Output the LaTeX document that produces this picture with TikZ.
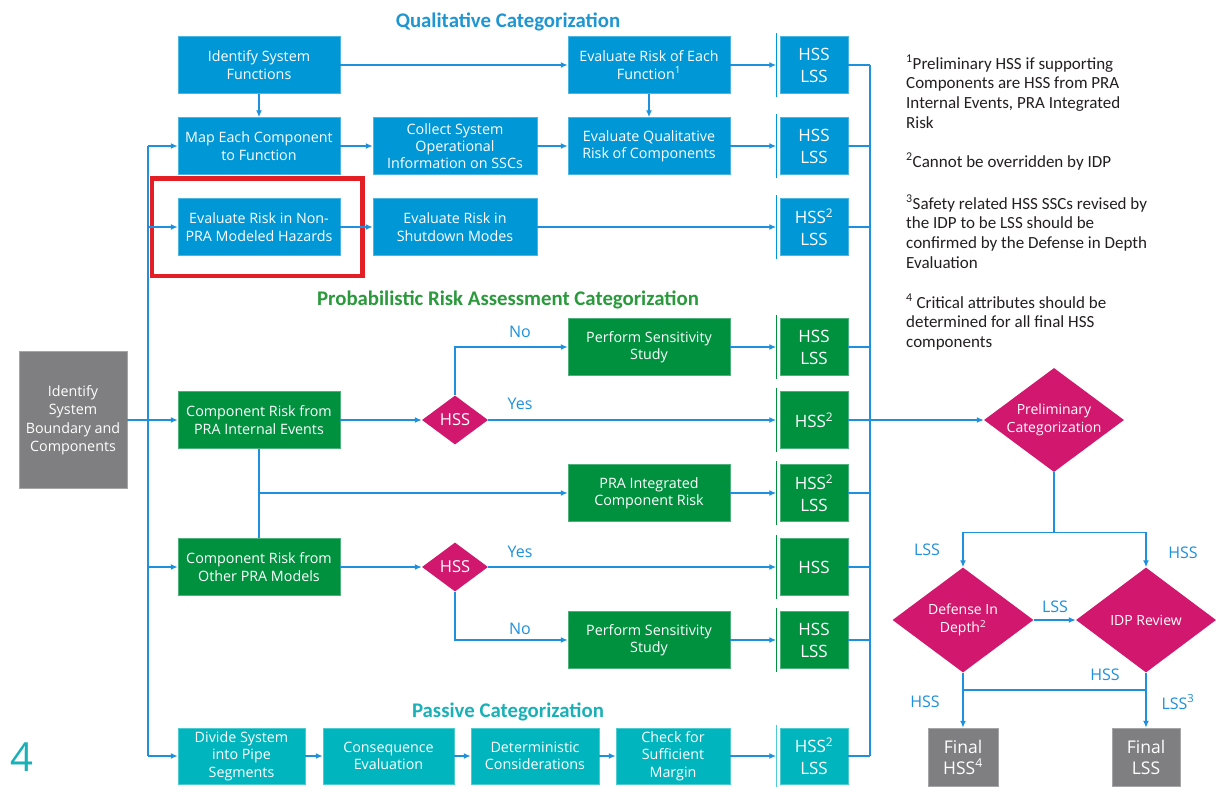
\documentclass[tikz,border=0pt]{standalone}
\usepackage{fontspec}
\setmainfont{Open Sans}
\newfontfamily\calfont{Carlito}
\usetikzlibrary{shapes.geometric,arrows.meta}

\definecolor{qualblue}{HTML}{0097D7}
\definecolor{pragreen}{HTML}{00913F}
\definecolor{pasteal}{HTML}{00B5BD}
\definecolor{decmag}{HTML}{D2186E}
\definecolor{boxgray}{HTML}{7F7F81}
\definecolor{linkblue}{HTML}{1E90DC}
\definecolor{markred}{HTML}{E31E24}
\definecolor{notetext}{HTML}{231F20}
\definecolor{qualtitle}{HTML}{1E96D2}
\definecolor{pratitle}{HTML}{2A9A3C}
\definecolor{pastitle}{HTML}{1AB0B8}

\tikzset{
  block/.style={rectangle, fill=#1, draw=#1!70!white, line width=0.5pt, text=white,
    align=center, inner sep=0pt, font=\fontsize{14.3}{17.3}\selectfont},
  wide/.style={minimum width=162pt, minimum height=57pt},
  res/.style={block=#1, minimum width=68pt, minimum height=57pt, font=\fontsize{17}{22}\selectfont},
  choice/.style={diamond, shape aspect=1.35, fill=decmag, text=white, align=center,
    inner sep=0pt, font=\fontsize{14}{17.5}\selectfont},
  link/.style={linkblue, line width=1.4pt},
  arr/.style={link, -{Latex[length=7pt,width=6pt]}},
  lbl/.style={text=linkblue, inner sep=0pt, font=\fontsize{16}{19}\selectfont},
  cattitle/.style={text=#1, inner sep=0pt, font=\calfont\fontsize{20.8}{24}\selectfont\bfseries},
  note/.style={anchor=north west, align=left, inner sep=0pt, text=notetext,
    font=\calfont\fontsize{17}{19.7}\selectfont},
  highlight/.style={markred, line width=4.5pt}
}

\begin{document}
\begin{tikzpicture}[x=1pt,y=-1pt]
\path[use as bounding box, fill=white] (0,0) rectangle (1216,800);

% section titles
\node[cattitle=qualtitle] (qualhead) at (508,22) {Qualitative Categorization};
\node[cattitle=pratitle] (prahead) at (508,300) {Probabilistic Risk Assessment Categorization};
\node[cattitle=pastitle] (pashead) at (508,712) {Passive Categorization};

% qualitative
\node[block=qualblue, wide] (fun) at (259,65) {Identify System\\Functions};
\node[block=qualblue, wide] (map) at (259,146) {Map Each Component\\to Function};
\node[block=qualblue, wide] (nonpra) at (259,227) {Evaluate Risk in Non-\\PRA Modeled Hazards};
\node[block=qualblue, wide, minimum width=164pt] (collect) at (455,146) {Collect System\\Operational\\Information on SSCs};
\node[block=qualblue, wide, minimum width=164pt] (shut) at (455,227) {Evaluate Risk in\\Shutdown Modes};
\node[block=qualblue, wide] (evalfun) at (649,65) {Evaluate Risk of Each\\Function\textsuperscript{1}};
\node[block=qualblue, wide] (evalqual) at (649,146) {Evaluate Qualitative\\Risk of Components};
\node[res=qualblue] (qa) at (814,65) {HSS\\LSS};
\node[res=qualblue] (qb) at (814,146) {HSS\\LSS};
\node[res=qualblue] (qc) at (814,227) {HSS\textsuperscript{2}\\LSS};

\draw[highlight] ([xshift=-26pt,yshift=20pt]nonpra.north west) rectangle ([xshift=22pt,yshift=-20pt]nonpra.south east);

% probabilistic
\node[block=boxgray, minimum width=108pt, minimum height=137pt, font=\fontsize{14.3}{18.5}\selectfont] (sys) at (73,420) {Identify\\System\\Boundary and\\Components};
\node[block=pragreen, wide] (pi) at (259,420) {Component Risk from\\PRA Internal Events};
\node[block=pragreen, wide] (op) at (259,567) {Component Risk from\\Other PRA Models};
\node[choice, minimum width=66pt, minimum height=49pt, font=\fontsize{16.5}{19}\selectfont] (hssa) at (455,420) {HSS};
\node[choice, minimum width=66pt, minimum height=49pt, font=\fontsize{16.5}{19}\selectfont] (hssb) at (455,567) {HSS};
\node[block=pragreen, wide] (sensa) at (649,347) {Perform Sensitivity\\Study};
\node[block=pragreen, wide] (integ) at (649,493) {PRA Integrated\\Component Risk};
\node[block=pragreen, wide] (sensb) at (649,640) {Perform Sensitivity\\Study};
\node[res=pragreen] (pa) at (814,347) {HSS\\LSS};
\node[res=pragreen] (pb) at (814,420) {HSS\textsuperscript{2}};
\node[res=pragreen] (pc) at (814,493) {HSS\textsuperscript{2}\\LSS};
\node[res=pragreen] (pd) at (814,567) {HSS};
\node[res=pragreen] (pe) at (814,640) {HSS\\LSS};

% passive
\node[block=pasteal, minimum width=127pt, minimum height=56pt] (div) at (241.5,756) {Divide System\\into Pipe\\Segments};
\node[block=pasteal, minimum width=131pt, minimum height=56pt] (cons) at (388.5,756) {Consequence\\Evaluation};
\node[block=pasteal, minimum width=128pt, minimum height=56pt] (det) at (535,756) {Deterministic\\Considerations};
\node[block=pasteal, minimum width=114pt, minimum height=56pt] (marg) at (673,756) {Check for\\Sufficient\\Margin};
\node[res=pasteal, minimum height=56pt] (va) at (814,756) {HSS\textsuperscript{2}\\LSS};

\node[text=pastitle, inner sep=0pt, font=\fontsize{40}{44}\selectfont] (pagenum) at (22,757) {4};

% final categorization
\node[choice, minimum width=140pt, minimum height=104pt] (prelim) at (1054,420) {Preliminary\\Categorization};
\node[choice, minimum width=141pt, minimum height=105pt] (depth) at (963,620) {Defense In\\Depth\textsuperscript{2}};
\node[choice, minimum width=140pt, minimum height=105pt] (idp) at (1146,620) {IDP Review};
\node[block=boxgray, minimum width=70pt, minimum height=58pt, font=\fontsize{17.5}{21}\selectfont] (finhss) at (963,757) {Final\\HSS\textsuperscript{4}};
\node[block=boxgray, minimum width=68pt, minimum height=58pt, font=\fontsize{17.5}{21}\selectfont] (finlss) at (1146,757) {Final\\LSS};

% bars in front of the results
\foreach \n/\c in {qa/qualblue,qb/qualblue,qc/qualblue,pa/pragreen,pb/pragreen,pc/pragreen,pd/pragreen,pe/pragreen,va/pasteal!70}
  \draw[\c, line width=1.2pt] ([xshift=-3.5pt,yshift=3pt]\n.north west) -- ([xshift=-3.5pt,yshift=-3pt]\n.south west);

% links
\draw[arr] (fun) -- (evalfun);
\draw[arr] (fun) -- (map);
\draw[arr] (map) -- (collect);
\draw[arr] (collect) -- (evalqual);
\draw[arr] (evalfun) -- (evalqual);
\draw[arr] (nonpra) -- (shut);
\draw[arr] (sys) -- (pi);
\draw[arr] (pi) -- (hssa);
\draw[arr] (op) -- (hssb);
\draw[arr] (div) -- (cons);
\draw[arr] (cons) -- (det);
\draw[arr] (det) -- (marg);
\foreach \a/\b in {evalfun/qa, evalqual/qb, shut/qc, sensa/pa, hssa/pb, integ/pc, hssb/pd, sensb/pe, marg/va}
  \draw[arr, shorten >=3.5pt] (\a) -- (\b);

\draw[arr] (hssa.north) |- (sensa.west);
\draw[arr] (hssb.south) |- (sensb.west);
\draw[link] (pi) -- (op);
\draw[arr] (pi.south |- integ.west) -- (integ.west);

\coordinate (lbtop) at (148,146);
\coordinate (lbbot) at (148,756);
\draw[link] (lbtop) -- (lbbot);
\draw[arr] (lbtop) -- (map.west);
\foreach \n in {nonpra, op}
  \draw[arr] (lbtop |- \n.west) -- (\n.west);
\draw[arr] (lbbot) -- (div.west);

\coordinate (rbtop) at (870,65);
\coordinate (rbbot) at (870,756);
\draw[link] (rbtop) -- (rbbot);
\foreach \n in {qa,qb,qc,pa,pc,pd,pe,va}
  \draw[link] (\n.east) -- (\n.east -| rbtop);
\draw[arr] (pb) -- (prelim);

\draw[link] (prelim.south) -- ++(0,60) coordinate (split);
\draw[arr] (split) -| (depth.north);
\draw[arr] (split) -| (idp.north);
\draw[arr] (depth) -- (idp);
\draw[arr] (depth) -- (finhss);
\draw[arr] (idp) -- (finlss);
\coordinate (idpjoin) at (1146,690);
\draw[link] (idpjoin) -- (idpjoin -| depth.south);

% branch labels
\node[lbl] (noa) at (520,332) {No};
\node[lbl] (yesa) at (520,404) {Yes};
\node[lbl] (yesb) at (520,552) {Yes};
\node[lbl] (nob) at (520,629) {No};
\node[lbl] (lssa) at (927,550) {LSS};
\node[lbl] (hssc) at (1183,553) {HSS};
\node[lbl] (lssb) at (1055,607) {LSS};
\node[lbl] (hssd) at (1105,675) {HSS};
\node[lbl] (hsse) at (925,702) {HSS};
\node[lbl] (lssc) at (1178,702) {LSS\textsuperscript{3}};

% notes
\node[note] (notea) at (906,55) {\textsuperscript{1}Preliminary HSS if supporting\\Components are HSS from PRA\\Internal Events, PRA Integrated\\Risk};
\node[note] (noteb) at (906,153) {\textsuperscript{2}Cannot be overridden by IDP};
\node[note] (notec) at (906,195) {\textsuperscript{3}Safety related HSS SSCs revised by\\the IDP to be LSS should be\\confirmed by the Defense in Depth\\Evaluation};
\node[note] (noted) at (906,294) {\textsuperscript{4} Critical attributes should be\\determined for all final HSS\\components};
\end{tikzpicture}
\end{document}
